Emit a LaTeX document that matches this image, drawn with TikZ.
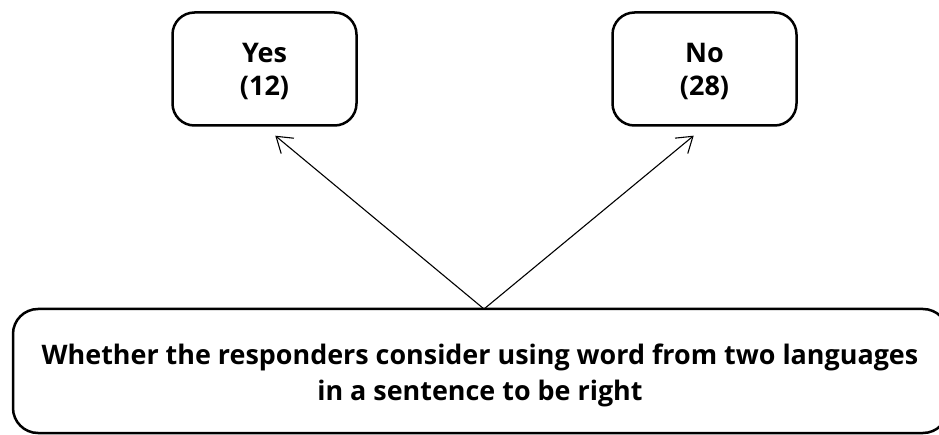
\documentclass[tikz,border=0pt]{standalone}
\usepackage{fontspec}
\setmainfont{Open Sans}
\usetikzlibrary{arrows.meta}
\begin{document}
\begin{tikzpicture}[x=1pt,y=-1pt,
  answer/.style={draw, line width=2.5pt, rounded corners=22pt,
    minimum width=184pt, minimum height=113pt},
  alabel/.style={align=center, font=\bfseries\fontsize{27}{33}\selectfont},
  question/.style={draw, line width=2.5pt, rounded corners=25pt,
    minimum width=935pt, minimum height=124pt},
  qlabel/.style={align=center, font=\bfseries\fontsize{26.9}{36}\selectfont},
  link/.style={line width=1.1pt, -{Straight Barb[length=15pt,width=20pt,line width=1.1pt]}, shorten >=14pt}]
\useasboundingbox (0,0) rectangle (939,435);
\clip (0,0) rectangle (939,435);
% answer boxes and their labels
\node[answer] (yes) at (264.5,69) {};
\node[alabel] (yestext) at (264.5,72) {Yes\\(12)};
\node[answer] (no) at (704.5,69) {};
\node[alabel] (notext) at (704.5,72) {No\\(28)};
% question box
\node[question] (q) at (480.5,371) {};
\node[qlabel] (qt) at (480,375) {Whether the responders consider using word from two languages\\in a sentence to be right};
% arrows from the question up to both answers
\coordinate (fork) at (484,309);
\draw[link] (fork) -- (yes.south);
\draw[link] (fork) -- (no.south);
\end{tikzpicture}
\end{document}
